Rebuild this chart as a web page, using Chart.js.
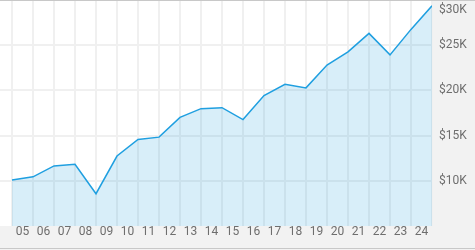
<!DOCTYPE html>
<html>
<head>
<meta charset="utf-8">
<style>
  html, body { margin: 0; padding: 0; background: #ffffff; }
  canvas { display: block; }
</style>
<script src="https://cdn.jsdelivr.net/npm/chart.js@4.4.1/dist/chart.umd.min.js"></script>
</head>
<body>
<canvas id="c" width="475" height="250"></canvas>
<script>
// Year labels shown between the vertical grid lines
const xLabels = ['05','06','07','08','09','10','11','12','13','14','15','16','17','18','19','20','21','22','23','24'];
// Portfolio value at each year boundary (21 points)
const values = [10080, 10440, 11650, 11830, 8570, 12740, 14570, 14830, 17020, 17980, 18090, 16770, 19430, 20670, 20280, 22800, 24260, 26310, 23930, 26750, 29360];
// Y axis tick values
const yTicks = [10000, 15000, 20000, 25000, 30000];

const FONT = 'Roboto, "Open Sans", "DejaVu Sans", sans-serif';

const bgPlugin = {
  id: 'bg',
  beforeDraw(chart) {
    const { ctx, chartArea, width, height } = chart;
    ctx.save();
    ctx.fillStyle = '#f2f2f2';
    ctx.fillRect(0, 0, width, height);
    ctx.fillStyle = '#ffffff';
    ctx.fillRect(0, 0, chartArea.right, chartArea.bottom);
    ctx.restore();
  },
  afterDraw(chart) {
    const { ctx, width } = chart;
    ctx.save();
    ctx.fillStyle = '#c8c8c8';
    ctx.fillRect(0, 0, width, 1);
    ctx.fillRect(0, 248, width, 1);
    ctx.restore();
  }
};

new Chart(document.getElementById('c'), {
  type: 'line',
  data: {
    datasets: [{
      data: values.map((v, i) => ({ x: i, y: v })),
      borderColor: '#1f9fe0',
      borderWidth: 1.5,
      backgroundColor: 'rgba(41,163,224,0.18)',
      fill: 'start',
      tension: 0,
      pointRadius: 0,
      pointHoverRadius: 0
    }]
  },
  options: {
    responsive: false,
    animation: false,
    events: [],
    layout: { padding: 0 },
    plugins: { legend: { display: false }, tooltip: { enabled: false } },
    scales: {
      x: {
        type: 'linear',
        min: -12 / 21,
        max: 20,
        border: { display: false },
        grid: { color: '#f0f0f0', lineWidth: 2, drawTicks: false },
        afterBuildTicks(scale) {
          scale.ticks = values.map((_, i) => ({ value: i }));
        },
        afterFit(scale) {
          scale.height = 24;
          scale.paddingLeft = 0;
          scale.paddingRight = 0;
        },
        ticks: {
          autoSkip: false,
          maxRotation: 0,
          padding: -1,
          labelOffset: 10.5,
          color: '#6e6e6e',
          font: { family: FONT, size: 12 },
          callback: (v) => (xLabels[v] !== undefined ? xLabels[v] : '')
        }
      },
      y: {
        position: 'right',
        min: 5000,
        max: 30000,
        border: { display: false },
        grid: { color: '#f0f0f0', lineWidth: 2, drawTicks: false },
        afterBuildTicks(scale) {
          scale.ticks = yTicks.map(v => ({ value: v }));
        },
        afterFit(scale) {
          scale.width = 43;
          scale.paddingTop = 0;
          scale.paddingBottom = 0;
        },
        ticks: {
          padding: 7,
          color: '#6e6e6e',
          font: (ctx) => ({
            family: FONT,
            size: 12,
            lineHeight: (ctx.tick && ctx.tick.value === 30000) ? 19 / 12 : 1.2
          }),
          callback: (v) => (v === 30000 ? ['', '$' + v / 1000 + 'K'] : '$' + v / 1000 + 'K')
        }
      }
    }
  },
  plugins: [bgPlugin]
});
</script>
</body>
</html>
